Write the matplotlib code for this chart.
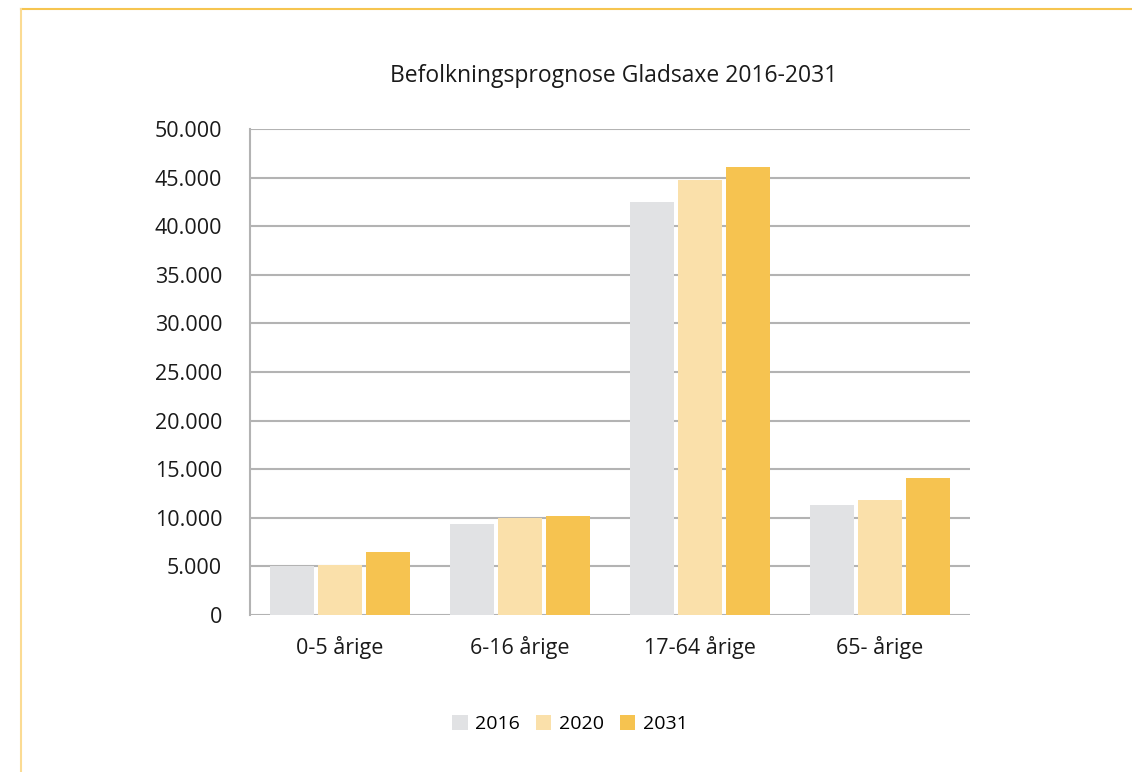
import numpy as np
import matplotlib
matplotlib.use("Agg")
import matplotlib.pyplot as plt
from matplotlib.lines import Line2D
from matplotlib.ticker import FuncFormatter

categories = ["0-5 årige", "6-16 årige", "17-64 årige", "65- årige"]
years = ["2016", "2020", "2031"]
values_2016 = [5050, 9350, 42500, 11350]
values_2020 = [5150, 9980, 44750, 11830]
values_2031 = [6480, 10190, 46120, 14130]
colors = ["#E1E2E4", "#FAE0AA", "#F6C350"]

plt.rcParams["font.family"] = ["Open Sans", "DejaVu Sans"]

fig = plt.figure(figsize=(11.32, 7.72), dpi=100)
ax = fig.add_axes([250 / 1132, 157 / 772, 720 / 1132, 486 / 772])

x = np.arange(len(categories))
step = 48 / 180
width = 44 / 180
series = [values_2016, values_2020, values_2031]
for i, (vals, year, col) in enumerate(zip(series, years, colors)):
    ax.bar(x + (i - 1) * step, vals, width, color=col, label=year, zorder=2)

ax.set_xlim(-0.5, 3.5)
ax.set_ylim(0, 50000)
ax.set_yticks(np.arange(0, 50001, 5000))
ax.yaxis.set_major_formatter(FuncFormatter(lambda v, p: f"{int(v):,}".replace(",", ".")))
ax.set_xticks(x)
ax.set_xticklabels(categories)
ax.grid(axis="y", color="#B3B3B3", linewidth=1.5, zorder=0)
for s in ["top", "right", "bottom"]:
    ax.spines[s].set_visible(False)
ax.spines["left"].set_color("#B3B3B3")
ax.spines["left"].set_linewidth(1.5)
ax.tick_params(axis="both", length=0, labelsize=15.5, colors="#1a1a1a")
ax.tick_params(axis="y", pad=20)
ax.tick_params(axis="x", pad=15)

fig.text(614 / 1132, 1 - 76 / 772, "Befolkningsprognose Gladsaxe 2016-2031",
         ha="center", va="center", fontsize=16.5, color="#1a1a1a")

leg = ax.legend(loc="center", bbox_to_anchor=(570 / 1132, 1 - 724 / 772),
                bbox_transform=fig.transFigure, ncol=3, frameon=False,
                fontsize=14, handlelength=0.8, handleheight=0.8,
                handletextpad=0.4, columnspacing=0.8)

# yellow frame lines at top and left
fig.add_artist(Line2D([21 / 1132, 1], [1 - 9 / 772, 1 - 9 / 772],
                      transform=fig.transFigure, color="#F6C550", linewidth=1.5))
fig.add_artist(Line2D([21 / 1132, 21 / 1132], [0, 1 - 9 / 772],
                      transform=fig.transFigure, color="#FBDB93", linewidth=1.5))

fig.savefig("out.png", dpi=100)
